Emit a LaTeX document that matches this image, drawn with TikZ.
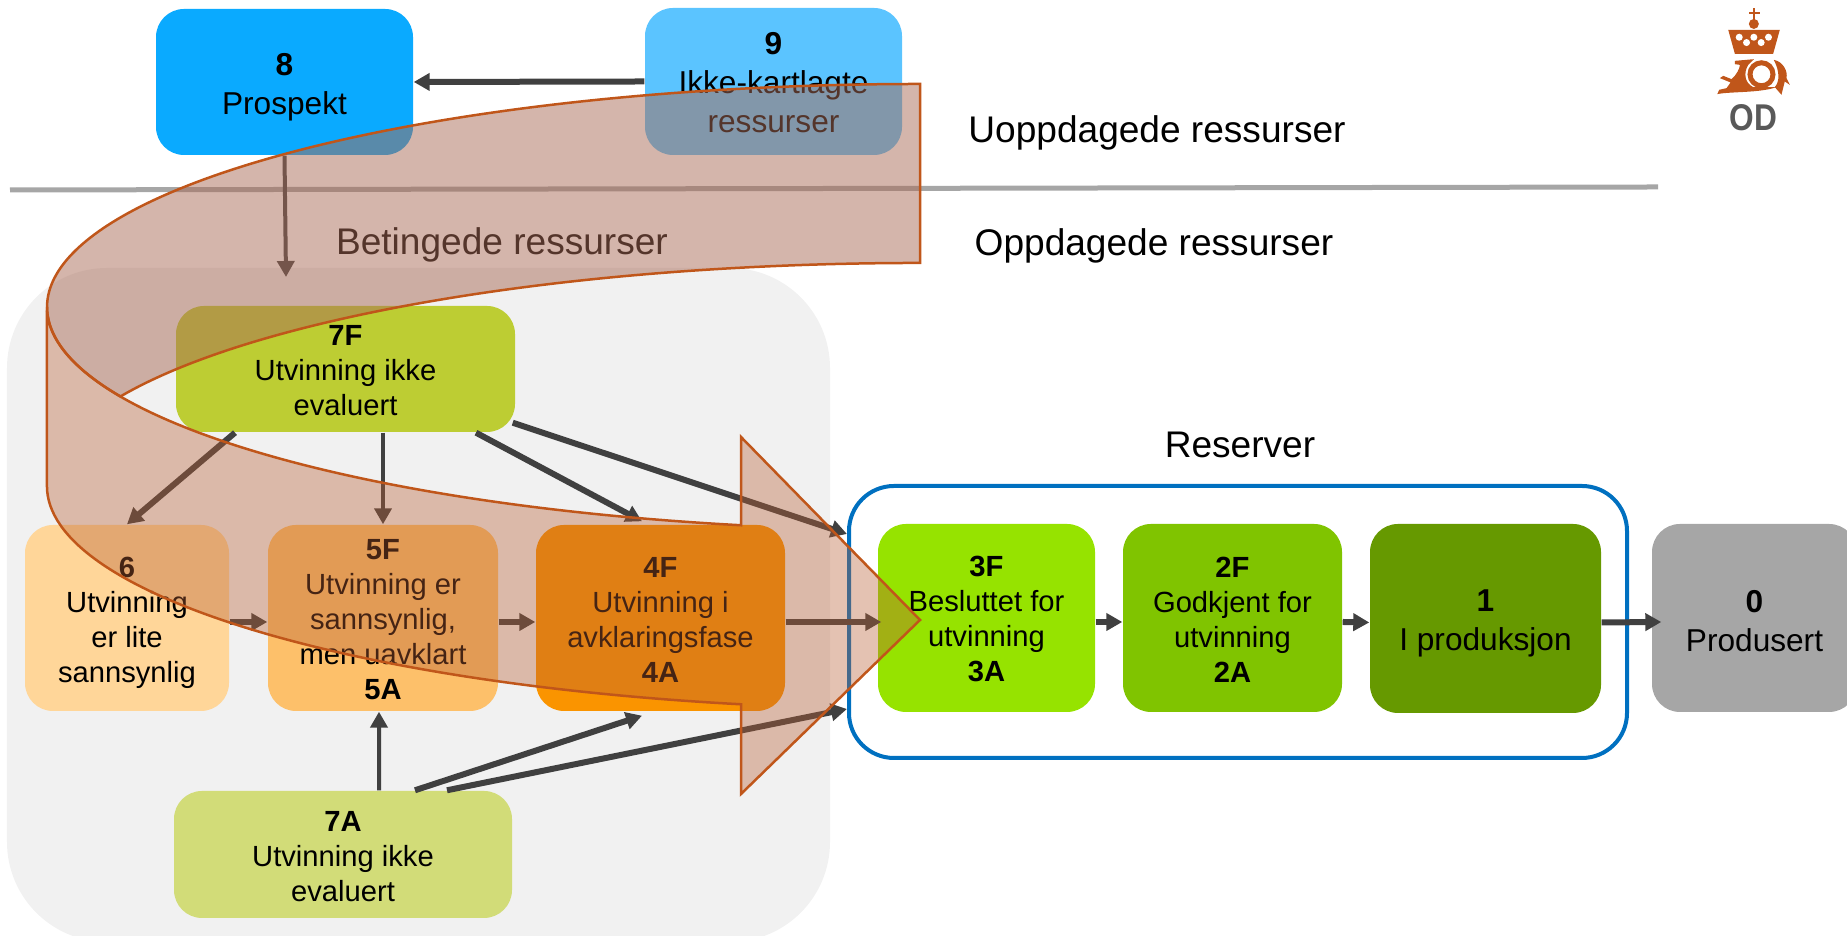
\documentclass[tikz,border=0pt]{standalone}
\usepackage{fontspec}
\setmainfont{Liberation Sans}
\usetikzlibrary{arrows.meta}
\definecolor{pilgra}{HTML}{404040}
\definecolor{bandkant}{HTML}{C0561A}
\definecolor{bandbak}{HTML}{A96B57}
\definecolor{bandfram}{HTML}{B85F35}
\newcommand{\liten}{\fontsize{8.3}{9.96}\selectfont}
\newcommand{\stor}{\fontsize{9}{11.1}\selectfont}
\newcommand{\senk}[1]{\rule{0pt}{\dimexpr6.3pt+#1\relax}}
\tikzset{
    boks/.style={rounded corners=.28cm, align=center, inner sep=0pt, font=\liten},
    storboks/.style={boks, font=\stor},
    overskrift/.style={inner sep=0pt, font=\fontsize{10.55}{13}\selectfont},
    pil/.style={-{Triangle[length=.16cm,width=.17cm]}, line width=.06cm, draw=pilgra},
    tynnpil/.style={pil, line width=.04cm},
    odfarge/.style={fill=bandkant, draw=none}
}

\begin{document}
\begin{tikzpicture}
    \useasboundingbox (0,0) rectangle (18.47,9.36);
    \clip (0,0) rectangle (18.47,9.36);
    % Grey field and dividing line
    \node[rounded corners=1cm, fill=black!5.5, minimum width=8.23cm, minimum height=6.74cm] (betinget) at (4.185,3.31) {};
    \draw[black!35, line width=.05cm] (.10,7.46) -- (16.58,7.49);
    % Boxes above the line
    \node[storboks, fill={rgb,255:red,10;green,170;blue,255}, minimum width=2.57cm, minimum height=1.46cm] (prospekt) at (2.845,8.54) {\senk{.10cm}\textbf{8}\\Prospekt};
    \node[storboks, fill={rgb,255:red,91;green,196;blue,255}, minimum width=2.57cm, minimum height=1.47cm] (ikkekart) at (7.735,8.545) {\senk{.02cm}\textbf{9}\\Ikke-kartlagte\\ressurser};
    % Boxes in the grey field
    \node[boks, fill={rgb,255:red,189;green,205;blue,51}, minimum width=3.39cm, minimum height=1.26cm] (sevenF) at (3.455,5.67) {\senk{.01cm}\textbf{7F}\\Utvinning ikke\\evaluert};
    \node[boks, fill={rgb,255:red,210;green,220;blue,120}, minimum width=3.38cm, minimum height=1.27cm] (sevenA) at (3.43,.815) {\senk{.03cm}\textbf{7A}\\Utvinning ikke\\evaluert};
    \node[boks, fill={rgb,255:red,255;green,214;blue,153}, minimum width=2.04cm, minimum height=1.86cm] (six) at (1.27,3.18) {\senk{.07cm}\textbf{6}\\Utvinning\\er lite\\sannsynlig};
    \node[boks, fill={rgb,255:red,253;green,192;blue,106}, minimum width=2.30cm, minimum height=1.86cm] (five) at (3.83,3.18) {\senk{.02cm}\textbf{5F}\\Utvinning er\\sannsynlig,\\men uavklart\\\textbf{5A}};
    \node[boks, fill={rgb,255:red,250;green,148;blue,0}, minimum width=2.49cm, minimum height=1.86cm] (four) at (6.605,3.18) {\senk{.01cm}\textbf{4F}\\Utvinning i\\avklaringsfase\\\textbf{4A}};
    % Reserves
    \node[rounded corners=.45cm, draw={rgb,255:red,0;green,112;blue,192}, line width=.04cm, minimum width=7.78cm, minimum height=2.72cm] (reserver) at (12.38,3.14) {};
    \node[boks, fill={rgb,255:red,150;green,227;blue,0}, minimum width=2.17cm, minimum height=1.88cm] (three) at (9.865,3.18) {\senk{.01cm}\textbf{3F}\\Besluttet for\\utvinning\\\textbf{3A}};
    \node[boks, fill={rgb,255:red,128;green,196;blue,0}, minimum width=2.19cm, minimum height=1.88cm] (two) at (12.325,3.18) {\senk{.01cm}\textbf{2F}\\Godkjent for\\utvinning\\\textbf{2A}};
    \node[storboks, fill={rgb,255:red,102;green,153;blue,0}, minimum width=2.31cm, minimum height=1.89cm] (one) at (14.855,3.175) {\senk{.09cm}\textbf{1}\\I produksjon};
    \node[storboks, fill=black!35, minimum width=2.05cm, minimum height=1.88cm] (zero) at (17.545,3.18) {\senk{.07cm}\textbf{0}\\Produsert};
    % Labels
    \node[overskrift] (uoppdaget) at (11.57,8.03) {Uoppdagede ressurser};
    \node[overskrift] (oppdaget) at (11.54,6.90) {Oppdagede ressurser};
    \node[overskrift] (betlabel) at (5.02,6.91) {Betingede ressurser};
    \node[overskrift] (reslabel) at (12.40,4.91) {Reserver};
    % Arrows
    \coordinate (feltpunkt) at (2.86,6.59);
    \draw[pil] (ikkekart.west) -- (prospekt.east);
    \draw[tynnpil] (prospekt.south) -- (feltpunkt);
    \draw[pil] ([xshift=-1.105cm]sevenF.south) -- (six.north);
    \draw[tynnpil] (five.north |- sevenF.south) -- (five.north);
    \draw[pil] ([xshift=1.305cm]sevenF.south) -- ([xshift=-.185cm,yshift=.03cm]four.north);
    \draw[pil] ([xshift=-.03cm,yshift=.1cm]sevenF.south east) -- ([yshift=.88cm]reserver.west);
    \draw[tynnpil] ([xshift=.36cm]sevenA.north) -- ([xshift=-.04cm]five.south);
    \draw[pil] ([xshift=.72cm]sevenA.north) -- ([xshift=-.185cm,yshift=-.04cm]four.south);
    \draw[pil] ([xshift=1.04cm]sevenA.north) -- ([yshift=-.87cm]reserver.west);
    \foreach \fra/\til in {six/five, five/four, three/two, two/one}
        \draw[pil] ([yshift=-.04cm]\fra.east) -- ([yshift=-.04cm]\til.west);
    \draw[pil] ([yshift=-.04cm]four.east) -- ([xshift=.04cm,yshift=-.04cm]three.west);
    \draw[pil] ([yshift=-.04cm]one.east) -- ([xshift=.1cm,yshift=-.04cm]zero.west);
    % Curved band, back part first
    \draw[bandkant, line width=.025cm, fill=bandbak, fill opacity=.5]
        (9.20,8.52) arc[start angle=90, end angle=203.66, x radius=8.73, y radius=2.23]
        arc[start angle=156.34, end angle=90, x radius=8.73, y radius=2.23] -- cycle;
    \draw[bandkant, line width=.025cm, fill=bandfram, fill opacity=.38]
        (.47,6.29) arc[start angle=180, end angle=258.17, x radius=8.73, y radius=2.23]
        -- (7.41,4.99) -- (9.20,3.16) -- (7.41,1.42) -- (7.41,2.317)
        arc[start angle=258.17, end angle=180, x radius=8.73, y radius=2.23] -- cycle;
    % Logo
    \begin{scope}[shift={(16.80,9.36)}, x=.00333cm, y=-.00333cm]
        \fill[bandkant] (219,25) rectangle (225,60);
        \fill[bandkant] (207,37) rectangle (240,43);
        \fill[bandkant] (222,72) circle[radius=.05cm];
        \fill[bandkant] (145,90) -- (300,90) -- (280,162) -- (165,162) -- cycle;
        \foreach \xpos in {178,222,266} \fill[white] (\xpos,112) circle[radius=.035cm];
        \foreach \xpos in {200,244} \fill[white] (\xpos,128) circle[radius=.035cm];
        \fill[odfarge] (165,183) -- (222,178) -- (205,195) .. controls (190,220) and (195,250) .. (220,262)
            -- (290,262) .. controls (240,280) and (150,275) .. (112,283) -- (118,270) -- (140,265) -- (152,248)
            -- (120,235) -- (130,228) -- (155,238) .. controls (170,225) and (180,205) .. (180,195) -- (165,193) -- cycle;
        \draw[bandkant, line width=.05cm] (245,258) arc[start angle=-90, end angle=270, radius=.115cm];
        \fill[odfarge] (282,180) .. controls (310,185) and (325,215) .. (320,235) -- (330,255) -- (315,245)
            -- (305,285) -- (285,262) .. controls (300,245) and (300,215) .. (282,180) -- cycle;
        \node[text=black!65, inner sep=0pt, font=\fontsize{10.6}{12}\selectfont\bfseries] (odtekst) at (220,355) {\scalebox{.85}[1]{OD}};
    \end{scope}
\end{tikzpicture}
\end{document}
